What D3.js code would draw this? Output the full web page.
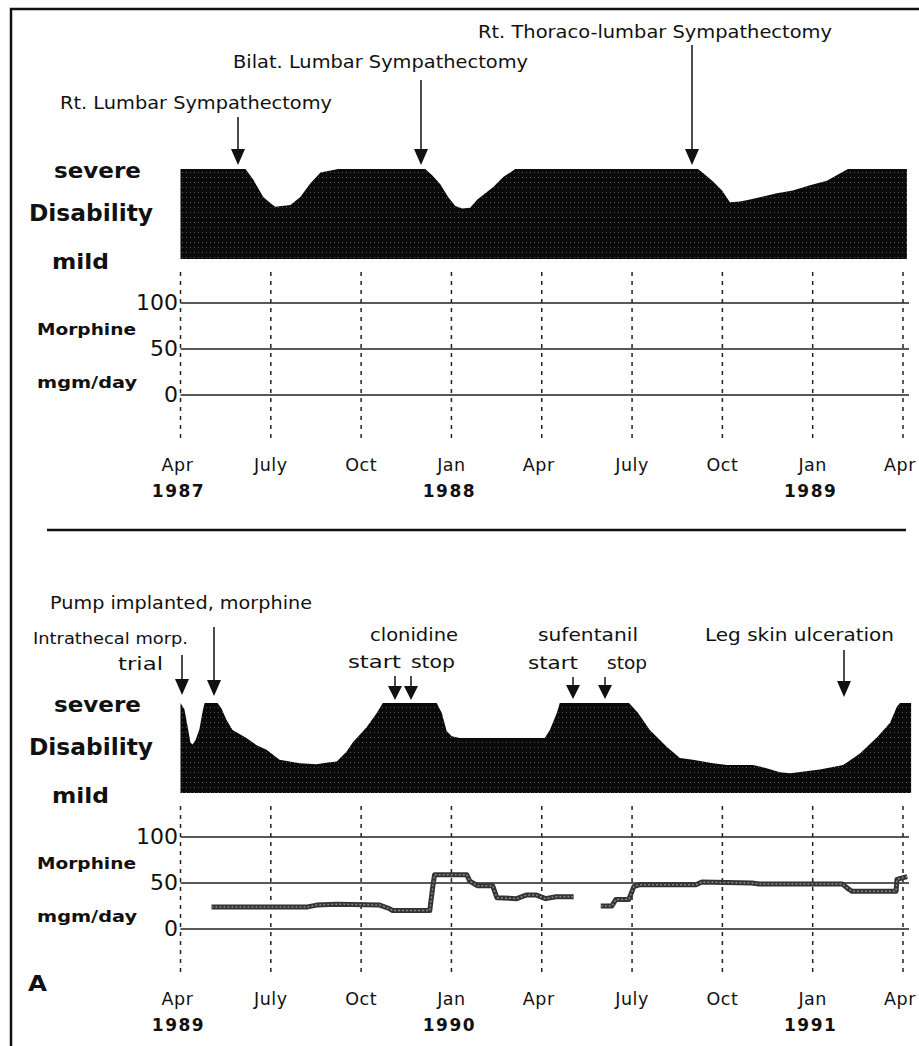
<!DOCTYPE html>
<html>
<head>
<meta charset="utf-8">
<script src="https://cdn.jsdelivr.net/npm/d3@7"></script>
<style>
  body { margin: 0; background: #fff; }
  svg { display: block; }
  text { fill: #111; }
</style>
</head>
<body>
<div id="chart"></div>
<script>
// x values are months since April of the first year of each panel
const tickMonths = [0, 3, 6, 9, 12, 15, 18, 21, 24];
const tickNames = ['Apr', 'July', 'Oct', 'Jan', 'Apr', 'July', 'Oct', 'Jan', 'Apr'];
const topYears = ['1987', '', '', '1988', '', '', '', '1989', ''];
const bottomYears = ['1989', '', '', '1990', '', '', '', '1991', ''];
const morphineTicks = [0, 50, 100];

// disability, 0 = mild, 10 = severe
const topMonths = [0, 2.16, 2.42, 2.75, 2.99, 3.15, 3.65, 3.98, 4.31, 4.65, 5.24, 8.13, 8.36, 8.63, 8.89, 9.13, 9.36, 9.62, 9.86, 10.39, 10.72, 11.12, 17.19, 17.42, 17.69, 17.99, 18.25, 18.59, 18.92, 19.81, 20.34, 20.91, 21.47, 21.9, 22.17, 24.13];
const topDisability = [10, 10, 8.8, 6.9, 6.2, 5.8, 6.0, 6.9, 8.4, 9.6, 10, 10, 9.3, 8.3, 6.9, 5.9, 5.6, 5.7, 6.6, 8.0, 9.1, 10, 10, 9.4, 8.6, 7.6, 6.3, 6.4, 6.6, 7.3, 7.6, 8.2, 8.7, 9.5, 10, 10];

const bottomMonths = [0, 0.13, 0.23, 0.33, 0.4, 0.5, 0.63, 0.73, 0.8, 1.23, 1.36, 1.53, 1.73, 2.19, 2.53, 2.86, 3.29, 3.96, 4.52, 4.89, 5.19, 5.52, 5.72, 6.18, 6.52, 6.72, 8.51, 8.68, 8.84, 9.01, 9.28, 12.1, 12.27, 12.5, 12.6, 14.9, 15.2, 15.59, 16.16, 16.59, 17.02, 17.69, 18.15, 19.02, 19.41, 19.91, 20.25, 21.24, 22.01, 22.57, 23.14, 23.57, 23.8, 23.9, 24.27];
const bottomDisability = [10, 9.3, 7.5, 5.6, 5.4, 5.9, 7.1, 9.0, 10, 10, 9.4, 8.1, 7.0, 6.1, 5.3, 4.8, 3.7, 3.3, 3.2, 3.4, 3.5, 4.6, 5.6, 7.3, 8.9, 10, 10, 8.9, 6.9, 6.3, 6.1, 6.1, 7.0, 8.9, 10, 10, 8.9, 7.0, 5.1, 3.9, 3.7, 3.3, 3.1, 3.1, 2.8, 2.3, 2.2, 2.6, 3.1, 4.4, 6.2, 7.8, 9.6, 10, 10];

// morphine mgm/day, bottom panel (two pieces)
const morphineMonthsA = [1.03, 4.22, 4.52, 5.19, 6.62, 6.95, 7.05, 8.28, 8.38, 8.44, 9.51, 9.61, 9.87, 10.37, 10.51, 11.17, 11.5, 11.8, 12.13, 12.47, 13.06];
const morphineDoseA = [24, 24, 26, 27, 26, 22, 20, 20, 46, 59, 59, 52, 47, 47, 34, 33, 37, 37, 33, 35, 35];
const morphineMonthsB = [13.96, 14.33, 14.46, 14.89, 15.06, 15.23, 17.12, 17.32, 18.98, 19.22, 21.98, 22.21, 22.31, 23.77, 23.8, 24.14];
const morphineDoseB = [25, 25, 32, 32, 46, 48, 48, 51, 50, 49, 49, 43, 41, 41, 54, 57];

const width = 919;
const height = 1046;

const svg = d3.select('#chart').append('svg').attr('width', width).attr('height', height);

const defs = svg.append('defs');
const pattern = defs.append('pattern').attr('id', 'dots').attr('patternUnits', 'userSpaceOnUse').attr('width', 4).attr('height', 5);
pattern.append('rect').attr('width', 4).attr('height', 5).attr('fill', '#0a0a0a');
pattern.append('rect').attr('x', 2).attr('y', 2).attr('width', 1).attr('height', 1).attr('fill', '#5a5a5a');

// frame
svg.append('rect').attr('x', 11).attr('y', 9).attr('width', 940).attr('height', 1080).attr('fill', 'none').attr('stroke', '#111').attr('stroke-width', 2.5);

const x = d3.scaleLinear().domain([0, 24]).range([180.5, 903]);

// fit a text between x0 and x1, vertically centred on cy
function label(txt, x0, x1, cy, size, weight) {
  svg
    .append('text')
    .attr('x', x0)
    .attr('y', cy)
    .attr('dy', '0.36em')
    .attr('textLength', x1 - x0)
    .attr('lengthAdjust', 'spacingAndGlyphs')
    .style('font-family', 'DejaVu Sans, sans-serif')
    .style('font-size', size + 'px')
    .style('font-weight', weight || 'normal')
    .text(txt);
}

function arrow(px, y0, tip, head) {
  const h = head || 16;
  svg.append('line').attr('x1', px).attr('x2', px).attr('y1', y0).attr('y2', tip - h + 2).attr('stroke', '#111').attr('stroke-width', 1.5);
  svg
    .append('path')
    .attr('d', `M${px - 7},${tip - h} L${px + 7},${tip - h} L${px},${tip} Z`)
    .attr('fill', '#111');
}

function panel({ top, months, disability, years, dose }) {
  const yD = d3.scaleLinear().domain([0, 10]).range([top + 90, top]);
  const zero = top + 226;
  const yM = d3.scaleLinear().domain([0, 100]).range([zero, zero - 92]);

  // dashed month lines
  svg
    .append('g')
    .selectAll('line')
    .data(tickMonths)
    .join('line')
    .attr('x1', (d) => x(d))
    .attr('x2', (d) => x(d))
    .attr('y1', top + 103)
    .attr('y2', top + 273)
    .attr('stroke', '#222')
    .attr('stroke-width', 1.5)
    .attr('stroke-dasharray', '4,5');

  // morphine grid
  svg
    .append('g')
    .selectAll('line')
    .data(morphineTicks)
    .join('line')
    .attr('x1', x(0))
    .attr('x2', 909)
    .attr('y1', (d) => yM(d))
    .attr('y2', (d) => yM(d))
    .attr('stroke', '#222')
    .attr('stroke-width', 1.5);

  morphineTicks.forEach((d) => {
    const w = String(d).length * 14;
    label(String(d), 178 - w, 178, yM(d) - 1, 22, 'normal');
  });

  // disability area
  const pts = months.map((m, i) => [m, disability[i]]);
  svg
    .append('path')
    .datum(pts)
    .attr('fill', 'url(#dots)')
    .attr(
      'd',
      d3
        .area()
        .x((d) => x(d[0]))
        .y0(yD(0))
        .y1((d) => yD(d[1]))
    );

  if (dose) {
    const line = d3
      .line()
      .x((d) => x(d[0]))
      .y((d) => yM(d[1]));
    dose.forEach((seg) => {
      svg.append('path').datum(seg).attr('fill', 'none').attr('stroke', '#333').attr('stroke-width', 5).attr('stroke-linejoin', 'round').attr('d', line);
      svg.append('path').datum(seg).attr('fill', 'none').attr('stroke', '#888').attr('stroke-width', 1.5).attr('stroke-dasharray', '2,2').attr('d', line);
    });
  }

  // side labels
  label('severe', 54, 141, top + 1, 22, 'bold');
  label('Disability', 29, 153, top + 44, 23, 'bold');
  label('mild', 52, 109, top + 92, 22, 'bold');
  label('Morphine', 37, 136, top + 161, 15, 'bold');
  label('mgm/day', 37, 137, top + 214, 15, 'bold');

  // month ticks
  svg
    .append('g')
    .selectAll('text')
    .data(tickNames)
    .join('text')
    .attr('x', (d, i) => x(tickMonths[i]) - (d === 'Apr' ? 3 : 0))
    .attr('y', top + 296)
    .attr('dy', '0.36em')
    .attr('text-anchor', 'middle')
    .style('font-family', 'DejaVu Sans, sans-serif')
    .style('font-size', '17.5px')
    .style('letter-spacing', '0.5px')
    .text((d) => d);

  svg
    .append('g')
    .selectAll('text')
    .data(years)
    .join('text')
    .attr('x', (d, i) => x(tickMonths[i]) - 2)
    .attr('y', top + 322)
    .attr('dy', '0.36em')
    .attr('text-anchor', 'middle')
    .style('font-family', 'DejaVu Sans, sans-serif')
    .style('font-size', '17px')
    .style('font-weight', 'bold')
    .style('letter-spacing', '1.5px')
    .text((d) => d);
}

panel({ top: 169, months: topMonths, disability: topDisability, years: topYears });
panel({
  top: 703,
  months: bottomMonths,
  disability: bottomDisability,
  years: bottomYears,
  dose: [
    morphineMonthsA.map((m, i) => [m, morphineDoseA[i]]),
    morphineMonthsB.map((m, i) => [m, morphineDoseB[i]]),
  ],
});

// separator
svg.append('line').attr('x1', 47).attr('x2', 906).attr('y1', 530).attr('y2', 530).attr('stroke', '#111').attr('stroke-width', 2.5);

// top annotations
label('Rt. Thoraco-lumbar Sympathectomy', 478, 832, 32, 17);
label('Bilat. Lumbar Sympathectomy', 233, 528, 62, 17);
label('Rt. Lumbar Sympathectomy', 60, 332, 103, 17);
arrow(238, 117, 165);
arrow(421, 80, 165);
arrow(692, 45, 165);

// bottom annotations
label('Pump implanted, morphine', 50, 312, 603, 17);
label('Intrathecal morp.', 33, 188, 638, 16);
label('trial', 118, 163, 664, 17);
label('clonidine', 370, 458, 635, 17);
label('start', 348, 401, 662, 17);
label('stop', 411, 455, 662, 17);
label('sufentanil', 538, 638, 635, 17);
label('start', 528, 578, 663, 17);
label('stop', 607, 647, 663, 17);
label('Leg skin ulceration', 705, 894, 635, 17);
arrow(182, 655, 695);
arrow(214, 627, 696);
arrow(395, 676, 700, 14);
arrow(411, 676, 700, 14);
arrow(573, 677, 699, 14);
arrow(605, 677, 699, 14);
arrow(844, 650, 697);

label('A', 28, 47, 983, 22, 'bold');
</script>
</body>
</html>
